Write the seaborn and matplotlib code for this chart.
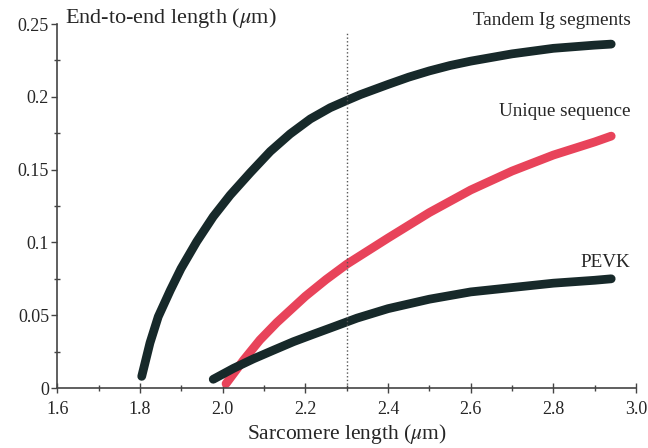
import numpy as np
import pandas as pd
import matplotlib
matplotlib.use('Agg')
import matplotlib.pyplot as plt
import seaborn as sns
from matplotlib.ticker import MultipleLocator, FormatStrFormatter

# Datos
sl_tandem = [1.804, 1.824, 1.844, 1.873, 1.899, 1.937, 1.977, 2.018, 2.067, 2.115, 2.163, 2.212,
             2.260, 2.300, 2.333, 2.40, 2.45, 2.50, 2.55, 2.60, 2.70, 2.80, 2.90, 2.94]
len_tandem = [0.008, 0.031, 0.049, 0.067, 0.082, 0.1005, 0.1177, 0.1325, 0.148, 0.1625, 0.1745, 0.1848,
              0.1925, 0.1975, 0.2015, 0.2085, 0.2135, 0.2178, 0.2215, 0.2245, 0.2295, 0.2333, 0.2355, 0.2362]

sl_unique = [2.008, 2.05, 2.09, 2.131, 2.20, 2.25, 2.30, 2.40, 2.50, 2.60, 2.70, 2.80, 2.90, 2.94]
len_unique = [0.003, 0.019, 0.033, 0.045, 0.063, 0.0745, 0.085, 0.103, 0.1205, 0.136, 0.149, 0.160, 0.169, 0.173]

sl_pevk = [1.977, 2.026, 2.074, 2.123, 2.171, 2.22, 2.268, 2.325, 2.40, 2.50, 2.60, 2.70, 2.80, 2.90, 2.94]
len_pevk = [0.006, 0.0135, 0.020, 0.026, 0.0318, 0.037, 0.042, 0.048, 0.0545, 0.061, 0.066, 0.069, 0.072, 0.074, 0.075]

etiquetas = ['Tandem Ig segments', 'Unique sequence', 'PEVK']

df = pd.concat([
    pd.DataFrame({'sl': sl_tandem, 'largo': len_tandem, 'segmento': etiquetas[0]}),
    pd.DataFrame({'sl': sl_unique, 'largo': len_unique, 'segmento': etiquetas[1]}),
    pd.DataFrame({'sl': sl_pevk, 'largo': len_pevk, 'segmento': etiquetas[2]}),
])

sns.set_style('white')
plt.rcParams['font.family'] = ['Liberation Serif', 'DejaVu Serif']
plt.rcParams['mathtext.fontset'] = 'stix'

colores = {etiquetas[0]: '#17292a', etiquetas[1]: '#e8435a', etiquetas[2]: '#17292a'}

fig = plt.figure(figsize=(6.48, 4.48), dpi=100)
ax = fig.add_axes([0.0886, 0.1339, 0.8929, 0.8125])

sns.lineplot(data=df, x='sl', y='largo', hue='segmento', palette=colores,
             linewidth=6.3, legend=False, ax=ax, sort=False)
for l in ax.get_lines():
    l.set_solid_capstyle('round')
    l.set_solid_joinstyle('round')

# Linea punteada vertical en 2.3
ax.vlines(2.3, 0, 0.244, colors='#555555', linestyles=':', linewidth=1)

ax.set_xlim(1.6, 3.0)
ax.set_ylim(0, 0.25)
ax.xaxis.set_major_locator(MultipleLocator(0.2))
ax.xaxis.set_minor_locator(MultipleLocator(0.1))
ax.xaxis.set_major_formatter(FormatStrFormatter('%.1f'))
ax.yaxis.set_major_locator(MultipleLocator(0.05))
ax.yaxis.set_minor_locator(MultipleLocator(0.025))
ax.yaxis.set_major_formatter(FormatStrFormatter('%g'))

ax.tick_params(bottom=True, left=True, which='both')
ax.tick_params(axis='x', which='major', direction='inout', length=6.5, width=1, color='#444444', labelsize=13, pad=6)
ax.tick_params(axis='x', which='minor', direction='inout', length=4, width=1, color='#444444')
ax.tick_params(axis='y', which='major', direction='out', length=4.5, width=1, color='#444444', labelsize=13, pad=1.5)
ax.tick_params(axis='y', which='minor', direction='inout', length=4, width=1, color='#444444')

for s in ['top', 'right']:
    ax.spines[s].set_visible(False)
for s in ['left', 'bottom']:
    ax.spines[s].set_color('#444444')
    ax.spines[s].set_linewidth(1.2)

ax.set_xlabel(r'Sarcomere length ($\mu$m)', fontsize=15.5, labelpad=3)
ax.set_ylabel('')
ax.text(1.619, 0.2541, r'End-to-end length ($\mu$m)', fontsize=16, ha='left', va='center')

ax.text(2.987, 0.2527, etiquetas[0], fontsize=13.8, ha='right', va='center')
ax.text(2.987, 0.1896, etiquetas[1], fontsize=13.8, ha='right', va='center')
ax.text(2.987, 0.0865, etiquetas[2], fontsize=13.8, ha='right', va='center')

plt.savefig('out.png', dpi=100)
